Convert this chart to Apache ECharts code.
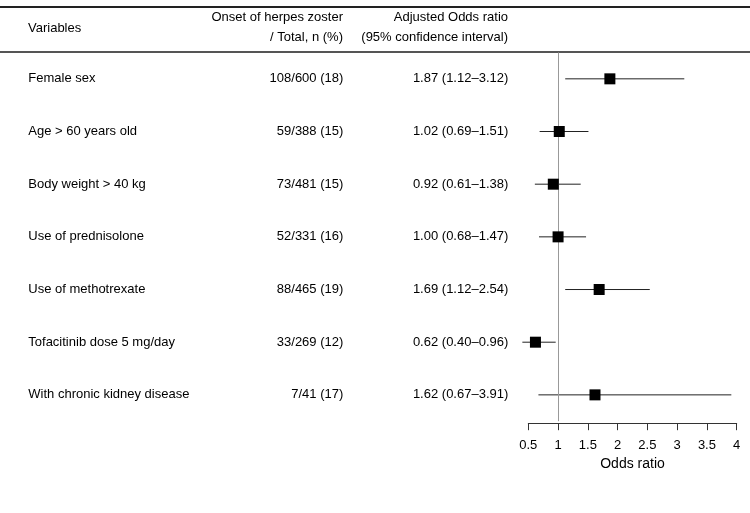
<!DOCTYPE html>
<html>
<head>
<meta charset="utf-8">
<script src="https://cdn.jsdelivr.net/npm/echarts@6/dist/echarts.min.js"></script>
<style>
  html, body { margin: 0; padding: 0; background: #fff; }
  #chart { width: 750px; height: 513px; }
</style>
</head>
<body>
<div id="chart"></div>
<script>
// table rows
var variables = ["Female sex", "Age > 60 years old", "Body weight > 40 kg", "Use of prednisolone",
	"Use of methotrexate", "Tofacitinib dose 5 mg/day", "With chronic kidney disease"];
var counts = ["108/600 (18)", "59/388 (15)", "73/481 (15)", "52/331 (16)", "88/465 (19)", "33/269 (12)", "7/41 (17)"];
var oddsRatio = [1.87, 1.02, 0.92, 1.00, 1.69, 0.62, 1.62];
var ciLow = [1.12, 0.69, 0.61, 0.68, 1.12, 0.40, 0.67];
var ciHigh = [3.12, 1.51, 1.38, 1.47, 2.54, 0.96, 3.91];
var xTicks = [0.5, 1, 1.5, 2, 2.5, 3, 3.5, 4];
var refLine = 1;

var FONT = '"Liberation Sans", Arial, sans-serif';

var chart = echarts.init(document.getElementById("chart"));

var pointData = oddsRatio.map(function(v, i) { return [v, i]; });
var barData = ciLow.map(function(v, i) { return [v, ciHigh[i], i]; });

function ciText(i) {
	return oddsRatio[i].toFixed(2) + " (" + ciLow[i].toFixed(2) + "\u2013" + ciHigh[i].toFixed(2) + ")";
}

function hiddenY(margin, align, fmt) {
	return {
		type: "category",
		data: variables,
		inverse: true,
		position: "left",
		axisLine: { show: false },
		axisTick: { show: false },
		splitLine: { show: false },
		axisLabel: {
			margin: margin,
			align: align,
			fontSize: 13,
			fontFamily: FONT,
			color: "#000",
			formatter: fmt
		}
	};
}

var option = {
	animation: false,
	backgroundColor: "#fff",
	grid: { left: 528.3, right: 13.3, top: 52.5, bottom: 91.8 },
	xAxis: {
		type: "value",
		min: 0.5,
		max: 4,
		interval: 0.5,
		offset: 2,
		name: "Odds ratio",
		nameLocation: "middle",
		nameGap: 33,
		nameTextStyle: { fontSize: 14, fontFamily: FONT, color: "#000" },
		axisLine: { show: true, lineStyle: { color: "#333", width: 1 } },
		axisTick: { show: true, length: 7, lineStyle: { color: "#333" } },
		splitLine: { show: false },
		axisLabel: {
			margin: 16,
			fontSize: 13,
			fontFamily: FONT,
			color: "#000",
			formatter: function(v) { return xTicks.indexOf(v) >= 0 ? String(v) : ""; }
		}
	},
	yAxis: [
		hiddenY(500, "left", function(v) { return v; }),
		hiddenY(185, "right", function(v, i) { return counts[i]; }),
		hiddenY(20, "right", function(v, i) { return ciText(i); })
	],
	graphic: [
		{ type: "line", shape: { x1: 0, y1: 7, x2: 750, y2: 7 }, style: { stroke: "#222", lineWidth: 2 } },
		{ type: "line", shape: { x1: 0, y1: 52, x2: 750, y2: 52 }, style: { stroke: "#555", lineWidth: 2 } },
		{ type: "text", x: 28, y: 28, style: { text: "Variables", fontSize: 13, fontFamily: FONT, fill: "#000", align: "left", verticalAlign: "middle" } },
		{ type: "text", x: 343, y: 17, style: { text: "Onset of herpes zoster", fontSize: 13, fontFamily: FONT, fill: "#000", align: "right", verticalAlign: "middle" } },
		{ type: "text", x: 343, y: 37, style: { text: "/ Total, n (%)", fontSize: 13, fontFamily: FONT, fill: "#000", align: "right", verticalAlign: "middle" } },
		{ type: "text", x: 508, y: 17, style: { text: "Adjusted Odds ratio", fontSize: 13, fontFamily: FONT, fill: "#000", align: "right", verticalAlign: "middle" } },
		{ type: "text", x: 508, y: 37, style: { text: "(95% confidence interval)", fontSize: 13, fontFamily: FONT, fill: "#000", align: "right", verticalAlign: "middle" } }
	],
	series: [{
		// reference line at OR = 1
		type: "scatter",
		yAxisIndex: 0,
		data: [],
		z: 1,
		markLine: {
			silent: true,
			symbol: "none",
			label: { show: false },
			lineStyle: { color: "#999", width: 1, type: "solid" },
			data: [{ xAxis: refLine }]
		}
	}, {
		type: "custom",
		yAxisIndex: 0,
		data: barData,
		encode: { x: [0, 1], y: 2 },
		renderItem: function(params, api) {
			var a = api.coord([api.value(0), api.value(2)]);
			var b = api.coord([api.value(1), api.value(2)]);
			return {
				type: "line",
				shape: { x1: a[0], y1: a[1], x2: b[0], y2: b[1] },
				style: { stroke: "#222", lineWidth: 1 }
			};
		},
		z: 2
	}, {
		type: "scatter",
		yAxisIndex: 0,
		data: pointData,
		symbol: "rect",
		symbolSize: 11,
		itemStyle: { color: "#000", opacity: 1 },
		z: 5
	}]
};
chart.setOption(option);
</script>
</body>
</html>
